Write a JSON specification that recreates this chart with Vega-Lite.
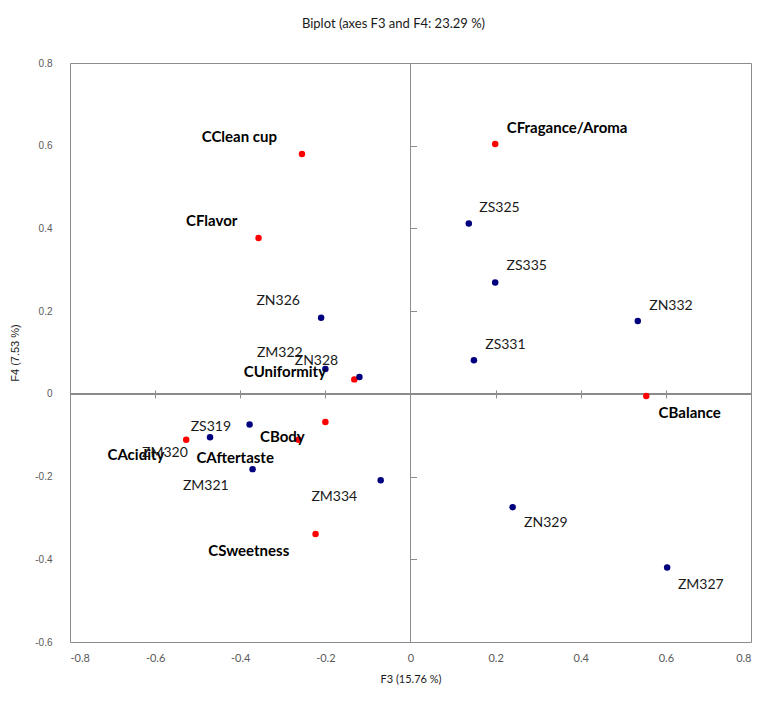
{
  "$schema": "https://vega.github.io/schema/vega-lite/v6.json",
  "width": 681,
  "height": 579,
  "padding": {"left": 9, "top": 18, "right": 15, "bottom": 5},
  "background": "white",
  "title": {"text": "Biplot (axes F3 and F4: 23.29 %)", "font": "Lato", "fontSize": 13, "fontWeight": "normal", "color": "#1a1a1a", "offset": 27, "dx": -17},
  "config": {"view": {"stroke": "#8c8c8c", "strokeWidth": 1}, "axis": {"grid": false}},
  "data": {"values": [
    {"name": "CFragance/Aroma", "type": "variable", "x": 0.199, "y": 0.604, "lx": 0.368, "ly": 0.644},
    {"name": "CClean cup", "type": "variable", "x": -0.255, "y": 0.580, "lx": -0.402, "ly": 0.620},
    {"name": "CFlavor", "type": "variable", "x": -0.357, "y": 0.377, "lx": -0.467, "ly": 0.417},
    {"name": "CUniformity", "type": "variable", "x": -0.132, "y": 0.035, "lx": -0.295, "ly": 0.054},
    {"name": "CBalance", "type": "variable", "x": 0.554, "y": -0.005, "lx": 0.656, "ly": -0.047},
    {"name": "CBody", "type": "variable", "x": -0.200, "y": -0.068, "lx": -0.301, "ly": -0.105},
    {"name": "CAftertaste", "type": "variable", "x": -0.263, "y": -0.111, "lx": -0.412, "ly": -0.156},
    {"name": "CAcidity", "type": "variable", "x": -0.527, "y": -0.111, "lx": -0.645, "ly": -0.149},
    {"name": "CSweetness", "type": "variable", "x": -0.223, "y": -0.339, "lx": -0.380, "ly": -0.381},
    {"name": "ZS325", "type": "observation", "x": 0.137, "y": 0.412, "lx": 0.209, "ly": 0.449},
    {"name": "ZS335", "type": "observation", "x": 0.199, "y": 0.269, "lx": 0.273, "ly": 0.308},
    {"name": "ZN332", "type": "observation", "x": 0.534, "y": 0.176, "lx": 0.612, "ly": 0.212},
    {"name": "ZS331", "type": "observation", "x": 0.149, "y": 0.081, "lx": 0.223, "ly": 0.117},
    {"name": "ZN326", "type": "observation", "x": -0.210, "y": 0.184, "lx": -0.311, "ly": 0.224},
    {"name": "ZM322", "type": "observation", "x": -0.200, "y": 0.060, "lx": -0.307, "ly": 0.098},
    {"name": "ZN328", "type": "observation", "x": -0.120, "y": 0.041, "lx": -0.221, "ly": 0.079},
    {"name": "ZS319", "type": "observation", "x": -0.378, "y": -0.074, "lx": -0.469, "ly": -0.079},
    {"name": "ZM320", "type": "observation", "x": -0.471, "y": -0.105, "lx": -0.577, "ly": -0.144},
    {"name": "ZM321", "type": "observation", "x": -0.371, "y": -0.182, "lx": -0.481, "ly": -0.224},
    {"name": "ZM334", "type": "observation", "x": -0.070, "y": -0.209, "lx": -0.179, "ly": -0.250},
    {"name": "ZN329", "type": "observation", "x": 0.240, "y": -0.274, "lx": 0.318, "ly": -0.313},
    {"name": "ZM327", "type": "observation", "x": 0.603, "y": -0.420, "lx": 0.682, "ly": -0.461}
  ]},
  "resolve": {"axis": {"x": "independent", "y": "independent"}},
  "layer": [
    {
      "mark": {"type": "rule", "color": "#8c8c8c", "strokeWidth": 1},
      "encoding": {
        "x": {"datum": 0, "type": "quantitative",
          "scale": {"domain": [-0.8, 0.8], "nice": false, "zero": false},
          "axis": {"orient": "bottom", "values": [-0.8, -0.6, -0.4, -0.2, 0, 0.2, 0.4, 0.6, 0.8], "domain": false, "ticks": false, "labelPadding": 10, "labelFont": "Lato", "labelFontSize": 11, "labelColor": "#595959", "labelExpr": "'' + round(datum.value * 10) / 10", "title": "F3 (15.76 %)", "titleFont": "Lato", "titleFontSize": 11, "titleFontWeight": "normal", "titleColor": "#1a1a1a", "titlePadding": 10}
        }
      }
    },
    {
      "mark": {"type": "rule", "color": "#8c8c8c", "strokeWidth": 1},
      "encoding": {
        "y": {"datum": 0, "type": "quantitative",
          "scale": {"domain": [-0.6, 0.8], "nice": false, "zero": false},
          "axis": {"orient": "left", "values": [-0.6, -0.4, -0.2, 0, 0.2, 0.4, 0.6, 0.8], "domain": false, "ticks": false, "labelPadding": 18, "labelFont": "Liberation Sans", "labelFontSize": 10, "labelColor": "#595959", "labelExpr": "'' + round(datum.value * 10) / 10", "title": "F4 (7.53 %)", "titleFont": "Liberation Sans", "titleFontSize": 11, "titleFontWeight": "normal", "titleColor": "#1a1a1a", "titlePadding": 14}
        }
      }
    },
    {
      "mark": {"type": "circle", "opacity": 1, "size": 42},
      "encoding": {
        "x": {"field": "x", "type": "quantitative",
          "scale": {"domain": [-0.8, 0.8], "nice": false, "zero": false},
          "axis": {"orient": "bottom", "offset": -252.1, "tickSize": 8, "tickColor": "#8c8c8c", "domain": false, "labels": false, "title": null, "values": [-0.6, -0.4, -0.2, 0.2, 0.4, 0.6]}
        },
        "y": {"field": "y", "type": "quantitative",
          "scale": {"domain": [-0.6, 0.8], "nice": false, "zero": false},
          "axis": {"orient": "right", "offset": -340.5, "tickSize": 6, "tickColor": "#8c8c8c", "domain": false, "labels": false, "title": null, "values": [-0.4, -0.2, 0.2, 0.4, 0.6]}
        },
        "color": {"field": "type", "type": "nominal", "scale": {"domain": ["variable", "observation"], "range": ["#ff0000", "#00007f"]}, "legend": null}
      }
    },
    {
      "transform": [{"filter": "datum.type === 'variable'"}],
      "mark": {"type": "text", "font": "Lato", "fontSize": 15, "fontWeight": "bold", "color": "#000000", "align": "center", "baseline": "middle"},
      "encoding": {
        "x": {"field": "lx", "type": "quantitative", "scale": {"domain": [-0.8, 0.8], "nice": false, "zero": false}, "axis": null},
        "y": {"field": "ly", "type": "quantitative", "scale": {"domain": [-0.6, 0.8], "nice": false, "zero": false}, "axis": null},
        "text": {"field": "name"}
      }
    },
    {
      "transform": [{"filter": "datum.type === 'observation'"}],
      "mark": {"type": "text", "font": "Lato", "fontSize": 14, "fontWeight": "normal", "color": "#1a1a1a", "align": "center", "baseline": "middle"},
      "encoding": {
        "x": {"field": "lx", "type": "quantitative", "scale": {"domain": [-0.8, 0.8], "nice": false, "zero": false}, "axis": null},
        "y": {"field": "ly", "type": "quantitative", "scale": {"domain": [-0.6, 0.8], "nice": false, "zero": false}, "axis": null},
        "text": {"field": "name"}
      }
    }
  ]
}
